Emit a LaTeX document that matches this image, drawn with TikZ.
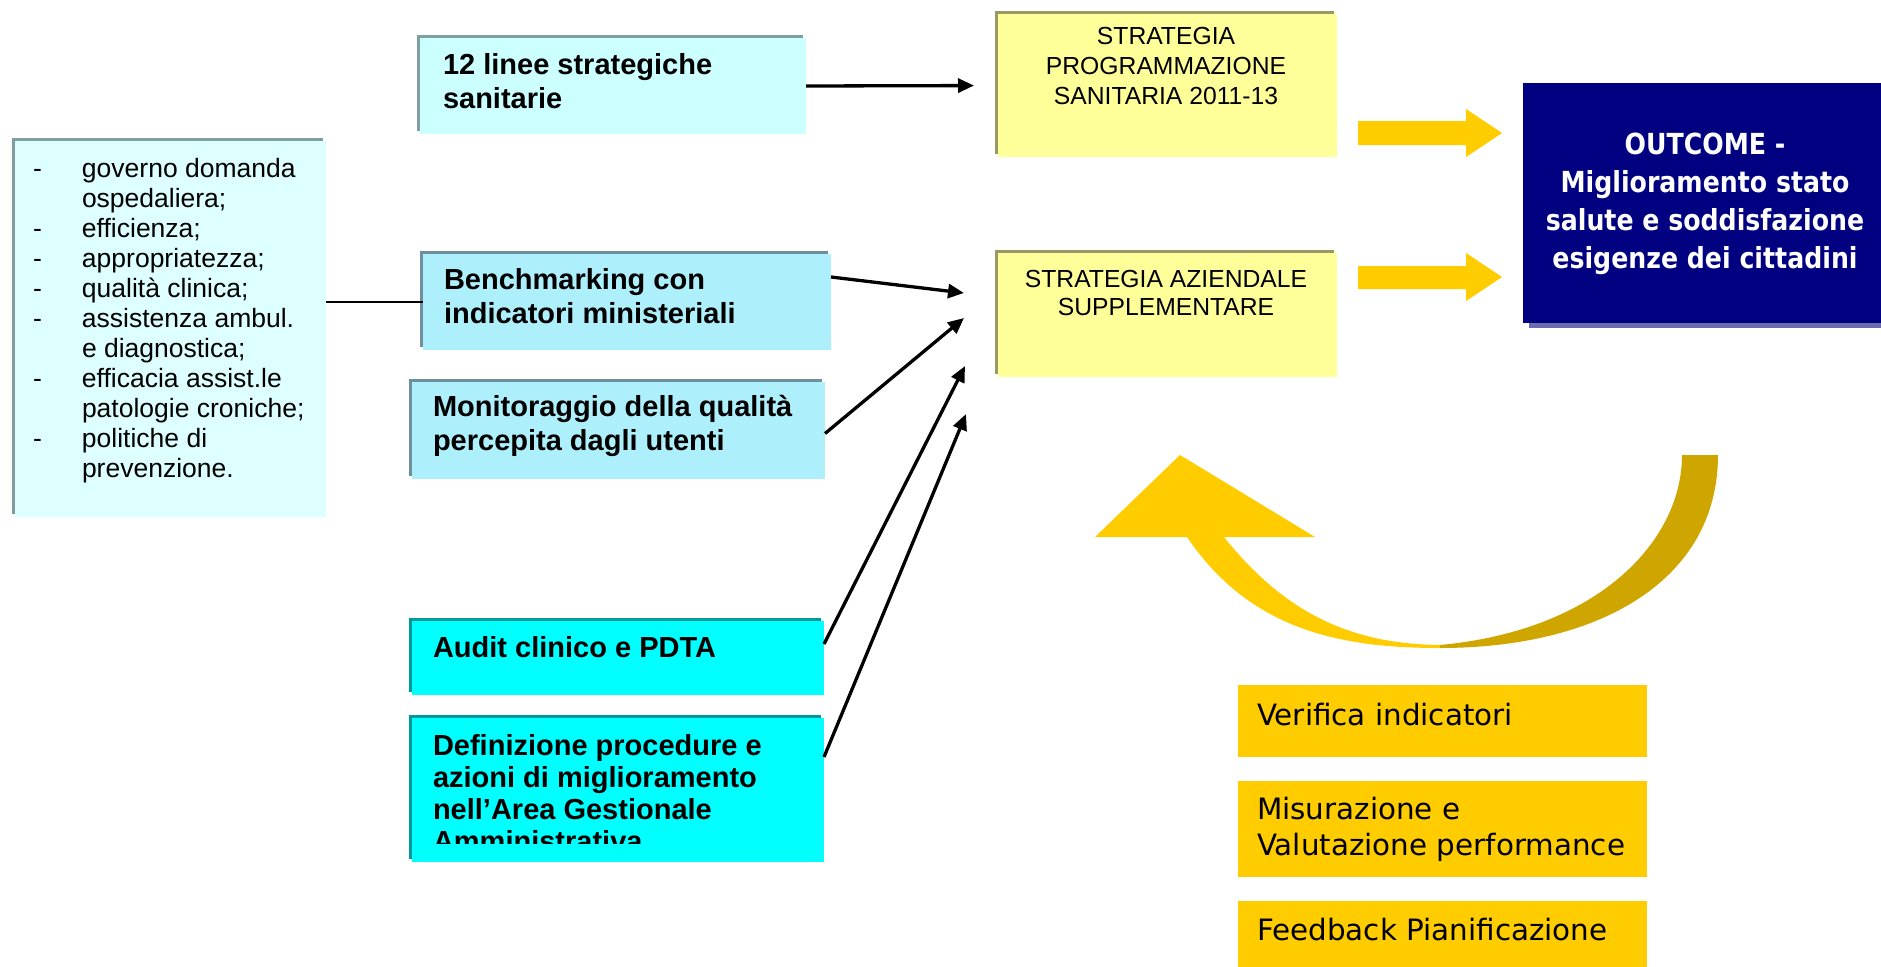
\documentclass[tikz,border=0pt]{standalone}
\usepackage{fontspec}
\setmainfont{Liberation Sans}
\newfontfamily\humreg{DejaVu Sans}
\newfontfamily\humbold[FakeStretch=0.87]{DejaVu Sans}
\usetikzlibrary{shadows,arrows.meta}

\definecolor{paleCyan}{HTML}{DDFFFF}
\definecolor{paleCyanEdge}{HTML}{7F9F9F}
\definecolor{lineeFill}{HTML}{CCFFFF}
\definecolor{lineeEdge}{HTML}{7FA0A0}
\definecolor{benchFill}{HTML}{AEEFFC}
\definecolor{benchEdge}{HTML}{6F8F9F}
\definecolor{auditFill}{HTML}{00FFFF}
\definecolor{auditEdge}{HTML}{009999}
\definecolor{stratFill}{HTML}{FFFF99}
\definecolor{stratEdge}{HTML}{999966}
\definecolor{navyFill}{HTML}{000080}
\definecolor{navyShade}{HTML}{6B6BB0}
\definecolor{gold}{HTML}{FFCC00}
\definecolor{goldDark}{HTML}{CFA600}

% multi-line text nodes are placed by the baseline of their last line
\tikzset{
  box/.style={rectangle, inner sep=0pt, outer sep=0pt, anchor=north west},
  edged/.style={general shadow={fill=#1, shadow xshift=-3pt, shadow yshift=3pt}},
  txt/.style={inner sep=0pt, outer sep=0pt, anchor=base west, align=left},
  boldtxt/.style={txt, font=\bfseries\fontsize{29}{34.5}\selectfont},
  listtxt/.style={txt, font=\fontsize{26.5}{30}\selectfont},
  strattxt/.style={inner sep=0pt, anchor=base, align=center, font=\fontsize{24.7}{30}\selectfont},
  goldtxt/.style={txt, font=\humreg\fontsize{29.4}{36}\selectfont},
  link/.style={line width=3.3pt, -{Triangle[length=16pt,width=14pt]}},
}

\begin{document}
\begin{tikzpicture}[x=1pt,y=-1pt]
\useasboundingbox (0,0) rectangle (1881,966);

% ---------- left list box ----------
\node[box, fill=paleCyan, edged=paleCyanEdge, minimum width=311pt, minimum height=376pt] (L) at (15,141) {};
\node[listtxt] (Ltext) at (33,477) {%
\makebox[49pt][l]{-}governo domanda\\
\hspace*{49pt}ospedaliera;\\
\makebox[49pt][l]{-}efficienza;\\
\makebox[49pt][l]{-}appropriatezza;\\
\makebox[49pt][l]{-}qualità clinica;\\
\makebox[49pt][l]{-}assistenza ambul.\\
\hspace*{49pt}e diagnostica;\\
\makebox[49pt][l]{-}efficacia assist.le\\
\hspace*{49pt}patologie croniche;\\
\makebox[49pt][l]{-}politiche di\\
\hspace*{49pt}prevenzione.};

% ---------- input boxes ----------
\node[box, fill=lineeFill, edged=lineeEdge, minimum width=386pt, minimum height=96pt] (linee) at (420,38) {};
\node[boldtxt] at (443,108.5) {12 linee strategiche\\sanitarie};

\node[box, fill=benchFill, edged=benchEdge, minimum width=408pt, minimum height=96pt] (bench) at (423,254) {};
\node[boldtxt] at (444,323.5) {Benchmarking con\\indicatori ministeriali};

\node[box, fill=benchFill, edged=benchEdge, minimum width=413pt, minimum height=97pt] (monit) at (412,382) {};
\node[boldtxt] at (433,450.5) {Monitoraggio della qualità\\percepita dagli utenti};

\node[box, fill=auditFill, edged=auditEdge, minimum width=412pt, minimum height=74pt] (audit) at (412,621) {};
\node[boldtxt] at (433,657) {Audit clinico e PDTA};

\node[box, fill=auditFill, edged=auditEdge, minimum width=412pt, minimum height=144pt] (defin) at (412,718) {};
\begin{scope}
  % the text area ends before the last line is complete
  \clip (412,718) rectangle (824,843);
  \node[boldtxt, font=\bfseries\fontsize{29}{32}\selectfont] at (433,851)
    {Definizione procedure e\\azioni di miglioramento\\nell’Area Gestionale\\Amministrativa};
\end{scope}

% ---------- strategy boxes ----------
\node[box, fill=stratFill, edged=stratEdge, minimum width=339pt, minimum height=143pt] (prog) at (998,14) {};
\node[strattxt] at (1166,104.5) {STRATEGIA\\PROGRAMMAZIONE\\SANITARIA 2011-13};

\node[box, fill=stratFill, edged=stratEdge, minimum width=339pt, minimum height=124pt] (azi) at (998,253) {};
\node[strattxt, font=\fontsize{24.7}{28}\selectfont] at (1166,315) {STRATEGIA AZIENDALE\\SUPPLEMENTARE};

% ---------- outcome ----------
\node[box, fill=navyFill, general shadow={fill=navyShade, shadow xshift=6pt, shadow yshift=-5pt},
      minimum width=367pt, minimum height=240pt] (out) at (1523,83) {};
\node[inner sep=0pt, anchor=base, align=center, text=white,
      font=\humbold\bfseries\fontsize{29}{38}\selectfont] at (1705,268)
  {OUTCOME -\\Miglioramento stato\\salute e soddisfazione\\esigenze dei cittadini};

% ---------- connectors ----------
\draw[line width=1.2pt] (L.east |- bench.west) -- (bench.west);
\draw[link, shorten >=24pt] (linee.east) -- (prog.west);

\coordinate (t1) at (964,293);
\coordinate (t2) at (964,318);
\coordinate (t3) at (965,366);
\coordinate (t4) at (966,414);
\draw[link] ([yshift=25pt]bench.east) -- (t1);
\draw[link] ([yshift=-3pt]monit.east) -- (t2);
\draw[link] ([yshift=14pt]audit.east) -- (t3);
\draw[link] ([yshift=33pt]defin.east) -- (t4);

% ---------- gold block arrows towards the outcome ----------
\fill[gold] (1358,121) -- (1466,121) -- (1466,109) -- (1502,133) -- (1466,157)
            -- (1466,145) -- (1358,145) -- cycle;
\fill[gold] (1358,266) -- (1466,266) -- (1466,253) -- (1502,277) -- (1466,301)
            -- (1466,289) -- (1358,289) -- cycle;

% ---------- curved feedback arrow ----------
\fill[goldDark] (1440,648) .. controls (1600,648) and (1718,580) .. (1718,455)
   -- (1682,455) .. controls (1682,540) and (1600,630) .. (1440,645) -- cycle;
\fill[gold] (1187,537) .. controls (1250,630) and (1340,648) .. (1440,648)
   -- (1440,645) .. controls (1360,644) and (1290,620) .. (1224,537) -- cycle;
\fill[gold] (1095,537) -- (1180,455) -- (1315,537) -- cycle;

% ---------- review boxes ----------
\node[box, fill=gold, minimum width=409pt, minimum height=72pt] (verif) at (1238,685) {};
\node[goldtxt] at (1257,725) {Verifica indicatori};
\node[box, fill=gold, minimum width=409pt, minimum height=96pt] (misur) at (1238,781) {};
\node[goldtxt] at (1257,855) {Misurazione e\\Valutazione performance};
\node[box, fill=gold, minimum width=409pt, minimum height=70pt] (feed) at (1238,901) {};
\node[goldtxt] at (1257,940) {Feedback Pianificazione};
\end{tikzpicture}
\end{document}
